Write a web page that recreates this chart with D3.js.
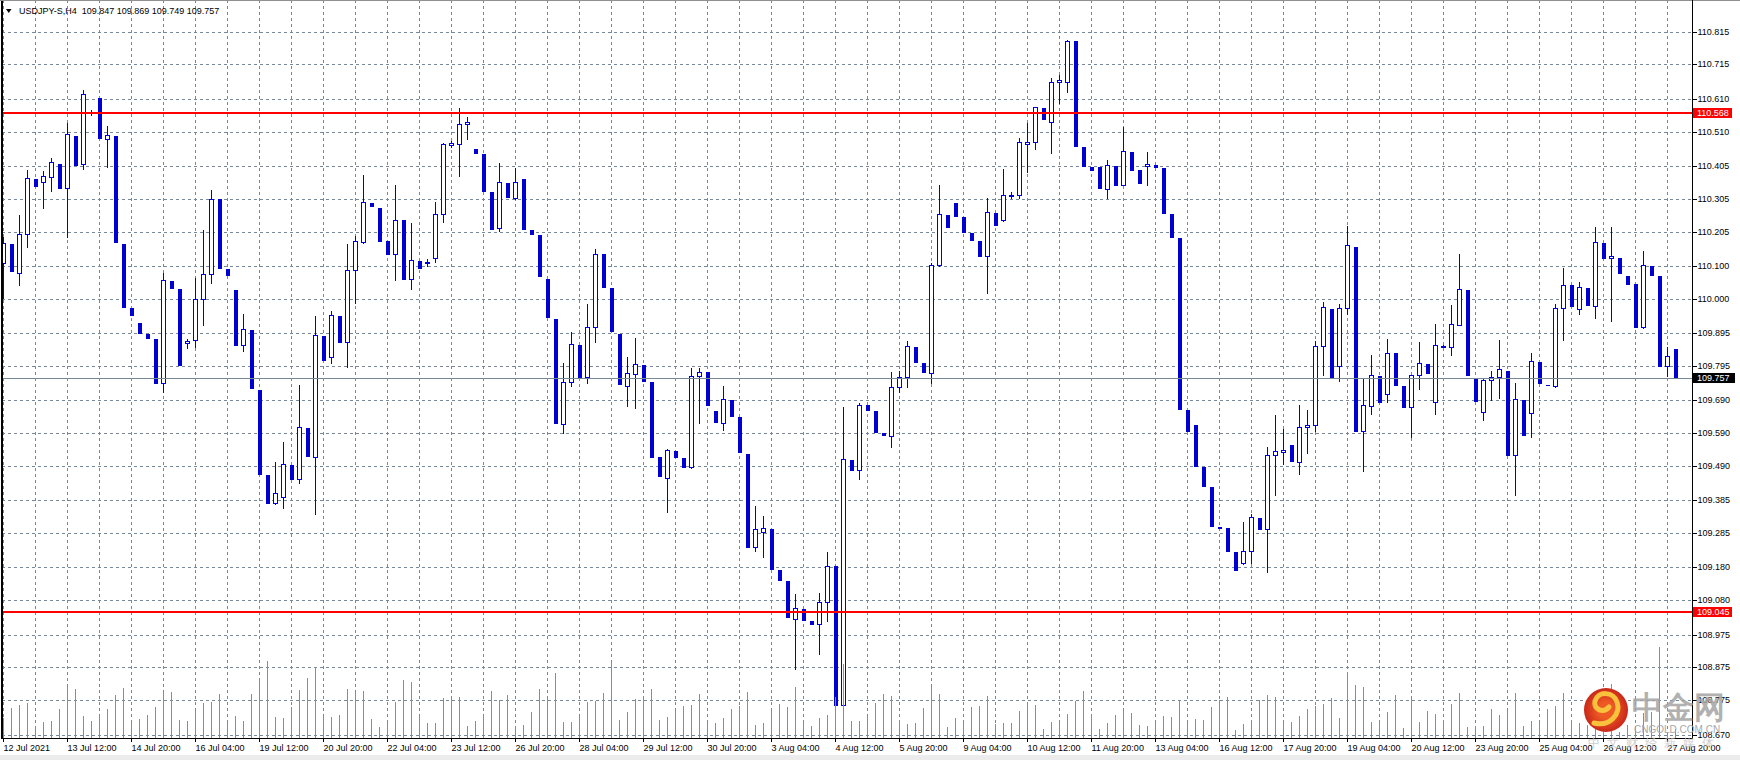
<!DOCTYPE html>
<html>
<head>
<meta charset="utf-8">
<script src="https://cdn.jsdelivr.net/npm/d3@7"></script>
<style>
  html, body { margin: 0; padding: 0; background: #fff; }
  svg { display: block; }
  text { font-family: "Liberation Sans", Arial, sans-serif; }
</style>
</head>
<body>
<div id="chart"></div>
<script>
// USDJPY-S H4, one bar every 4 hours from 12 Jul 2021
const symbol = "USDJPY-S,H4";

const opens = [
  110.110,110.167,110.080,110.197,110.366,110.356,110.373,110.412,110.337,110.497,
  110.411,110.566,110.613,110.489,110.497,110.167,109.972,109.926,109.893,109.877,
  109.742,110.054,110.029,109.866,109.874,109.999,110.075,110.305,110.091,110.027,
  109.858,109.905,109.722,109.462,109.376,109.396,109.493,109.449,109.605,109.518,
  109.887,109.822,109.948,109.869,110.089,110.174,110.293,110.277,110.177,110.136,
  110.241,110.060,110.116,110.108,110.124,110.258,110.470,110.472,110.533,110.457,
  110.442,110.326,110.215,110.354,110.309,110.366,110.209,110.195,110.060,109.939,
  109.617,109.747,109.859,109.761,109.913,110.137,110.033,109.893,109.735,109.771,
  109.798,109.745,109.517,109.452,109.536,109.513,109.486,109.764,109.777,109.656,
  109.620,109.691,109.639,109.527,109.242,109.289,109.298,109.173,109.139,109.022,
  109.053,109.018,109.009,109.074,109.183,108.761,109.508,109.476,109.676,109.658,
  109.589,109.582,109.730,109.761,109.853,109.805,109.773,110.104,110.256,110.293,
  110.249,110.201,110.177,110.132,110.262,110.239,110.316,110.316,110.473,110.478,
  110.582,110.539,110.661,110.663,110.786,110.463,110.402,110.402,110.334,110.405,
  110.347,110.447,110.393,110.405,110.408,110.399,110.259,110.186,109.661,109.615,
  109.487,109.425,109.305,109.300,109.227,109.193,109.230,109.332,109.296,109.522,
  109.533,109.555,109.503,109.608,109.614,109.855,109.968,109.794,109.971,110.158,
  109.596,109.673,109.764,109.710,109.835,109.734,109.669,109.767,109.800,109.684,
  109.855,109.852,109.921,110.026,109.757,109.655,109.751,109.761,109.781,109.522,
  109.691,109.650,109.808,109.738,109.734,109.973,110.042,109.968,110.033,109.979,
  110.170,110.124,110.125,110.070,110.045,109.915,110.099,110.069,109.794,109.847
];

const highs = [
  110.190,110.167,110.256,110.393,110.366,110.390,110.429,110.412,110.536,110.497,
  110.637,110.575,110.613,110.528,110.497,110.167,109.972,109.926,109.893,109.877,
  110.078,110.054,110.029,109.878,110.063,110.210,110.332,110.305,110.091,110.027,
  109.954,109.905,109.722,109.462,109.503,109.564,109.493,109.737,109.605,109.948,
  109.887,109.963,109.948,110.167,110.192,110.378,110.293,110.277,110.177,110.347,
  110.241,110.231,110.116,110.120,110.296,110.475,110.480,110.582,110.555,110.457,
  110.442,110.326,110.415,110.354,110.400,110.366,110.209,110.195,110.060,109.939,
  109.804,109.898,109.859,109.984,110.152,110.137,110.033,109.893,109.823,109.881,
  109.798,109.745,109.517,109.542,109.536,109.513,109.789,109.789,109.777,109.656,
  109.734,109.691,109.639,109.527,109.368,109.337,109.298,109.173,109.139,109.099,
  109.053,109.018,109.103,109.228,109.183,109.669,109.508,109.683,109.676,109.658,
  109.589,109.775,109.781,109.871,109.853,109.805,110.110,110.347,110.256,110.293,
  110.249,110.201,110.177,110.307,110.262,110.396,110.326,110.490,110.536,110.586,
  110.582,110.673,110.683,110.790,110.786,110.463,110.402,110.402,110.424,110.405,
  110.524,110.447,110.393,110.447,110.408,110.399,110.259,110.186,109.661,109.615,
  109.487,109.425,109.305,109.300,109.227,109.319,109.343,109.332,109.549,109.646,
  109.603,109.555,109.676,109.661,109.871,109.991,109.968,109.984,110.221,110.158,
  109.757,109.829,109.764,109.877,109.835,109.734,109.767,109.869,109.800,109.923,
  109.858,109.981,110.137,110.026,109.757,109.757,109.780,109.874,109.781,109.743,
  109.691,109.834,109.808,109.738,109.984,110.095,110.042,110.051,110.033,110.218,
  110.170,110.220,110.125,110.070,110.045,110.146,110.099,110.069,109.853,109.869
];

const lows = [
  110.002,110.086,110.042,110.159,110.344,110.276,110.330,110.339,110.187,110.408,
  110.397,110.562,110.492,110.403,110.174,109.976,109.951,109.897,109.881,109.742,
  109.717,110.034,109.798,109.850,109.854,109.920,110.049,110.095,110.073,109.859,
  109.842,109.727,109.466,109.378,109.374,109.363,109.450,109.439,109.520,109.343,
  109.813,109.805,109.869,109.791,109.988,110.171,110.284,110.177,110.138,110.058,
  110.061,110.031,110.095,110.100,110.113,110.235,110.462,110.376,110.488,110.446,
  110.330,110.214,110.208,110.312,110.305,110.214,110.199,110.068,109.943,109.620,
  109.589,109.735,109.762,109.744,109.869,110.037,109.903,109.740,109.674,109.668,
  109.750,109.518,109.460,109.350,109.518,109.488,109.484,109.622,109.677,109.625,
  109.600,109.643,109.531,109.244,109.231,109.213,109.175,109.142,109.030,108.870,
  109.020,109.009,108.916,109.018,108.761,108.758,109.476,109.450,109.661,109.592,
  109.585,109.549,109.714,109.732,109.808,109.775,109.742,110.100,110.220,110.254,
  110.205,110.180,110.131,110.017,110.226,110.238,110.308,110.307,110.386,110.456,
  110.548,110.446,110.597,110.632,110.467,110.406,110.392,110.339,110.306,110.348,
  110.346,110.394,110.354,110.347,110.403,110.263,110.187,109.664,109.595,109.491,
  109.430,109.308,109.296,109.231,109.173,109.191,109.193,109.296,109.165,109.400,
  109.496,109.506,109.466,109.530,109.595,109.766,109.762,109.748,109.952,109.598,
  109.473,109.648,109.685,109.684,109.738,109.671,109.577,109.724,109.772,109.648,
  109.854,109.827,109.920,109.766,109.689,109.631,109.692,109.697,109.524,109.401,
  109.585,109.577,109.742,109.730,109.731,109.874,109.978,109.952,109.981,109.941,
  110.125,109.931,110.079,110.045,109.915,109.911,110.074,109.796,109.764,109.749
];

const closes = [
  110.170,110.086,110.197,110.368,110.344,110.374,110.417,110.339,110.502,110.408,
  110.624,110.570,110.492,110.499,110.174,109.976,109.951,109.897,109.881,109.742,
  110.057,110.034,109.798,109.870,109.999,110.075,110.305,110.095,110.073,109.859,
  109.907,109.727,109.466,109.378,109.407,109.495,109.450,109.608,109.520,109.889,
  109.813,109.950,109.869,110.087,110.176,110.295,110.284,110.177,110.138,110.240,
  110.061,110.118,110.095,110.112,110.258,110.472,110.474,110.533,110.539,110.446,
  110.330,110.214,110.356,110.312,110.356,110.214,110.199,110.068,109.943,109.620,
  109.745,109.861,109.762,109.913,110.137,110.037,109.903,109.740,109.773,109.800,
  109.750,109.518,109.460,109.538,109.518,109.488,109.764,109.776,109.677,109.625,
  109.694,109.643,109.531,109.244,109.297,109.300,109.175,109.142,109.030,109.056,
  109.020,109.009,109.074,109.185,108.761,109.510,109.476,109.676,109.661,109.592,
  109.585,109.730,109.761,109.856,109.808,109.775,110.102,110.259,110.220,110.254,
  110.205,110.180,110.131,110.264,110.226,110.316,110.318,110.478,110.478,110.585,
  110.548,110.661,110.667,110.786,110.467,110.406,110.392,110.339,110.408,110.348,
  110.450,110.394,110.354,110.411,110.403,110.263,110.187,109.664,109.595,109.491,
  109.430,109.308,109.301,109.231,109.173,109.230,109.335,109.296,109.524,109.535,
  109.538,109.506,109.608,109.614,109.855,109.974,109.762,109.971,110.163,109.598,
  109.675,109.767,109.685,109.834,109.738,109.671,109.767,109.804,109.772,109.858,
  109.857,109.922,110.029,109.766,109.689,109.753,109.761,109.785,109.524,109.695,
  109.585,109.810,109.742,109.736,109.971,110.041,109.978,110.035,109.981,110.172,
  110.125,110.129,110.079,110.045,109.915,110.102,110.074,109.796,109.825,109.757
];

// tick volume per bar
const volumes = [
  1930,2900,3230,3430,1030,1530,1630,2800,4970,4800,
  2130,1630,2130,2800,4200,4900,1530,1800,2200,3030,
  4430,4530,1700,1630,2630,3430,3530,4300,1370,2130,
  1630,4300,5600,7630,2030,1930,3030,4700,5930,7030,
  1970,2030,2200,4800,4430,4630,1800,1030,1400,3530,
  5700,5530,1970,1430,1430,3870,3870,4030,1130,1630,
  2130,4630,3700,4200,1030,1200,2530,4800,3870,6370,
  1530,1530,2030,3530,3630,4370,7470,1700,2530,3800,
  3800,4800,1700,2030,2630,3130,3200,4300,1430,1430,
  1930,2800,3130,4530,1200,1430,2630,3300,3030,5030,
  1370,1100,1930,2200,4030,7300,1600,1600,1970,3430,
  4300,4100,1600,1300,1430,2930,4970,4300,1030,1930,
  1370,3030,3100,4100,1300,1430,1430,2630,3200,3200,
   800,1530,1370,2300,3600,4600,2200, 800,1430,2200,
  2600,2370,1200,1100,1370,2100,2030,3600,1370,1800,
  1700,3030,3700,4030, 700,1290,1600,3670,4180,4010,
  1360,1530,2100,2800,3150,3320,3910,1940,6420,5210,
  5040,1530,1360,2460,4220, 950,3940,1500,2560,2290,
  1700,3320,4390,1010,1120,1120,2800,2220,2740,4390,
  1120,1630,1360,2840,3150,4390,1630,1360,1190,1360,
  1120,5320, 500,1250,1080,2390,2460,9000, 500, 800
];

// time axis labels, one every 8 bars
const timeLabels = [
  "12 Jul 2021","13 Jul 12:00","14 Jul 20:00","16 Jul 04:00","19 Jul 12:00",
  "20 Jul 20:00","22 Jul 04:00","23 Jul 12:00","26 Jul 20:00","28 Jul 04:00",
  "29 Jul 12:00","30 Jul 20:00","3 Aug 04:00","4 Aug 12:00","5 Aug 20:00",
  "9 Aug 04:00","10 Aug 12:00","11 Aug 20:00","13 Aug 04:00","16 Aug 12:00",
  "17 Aug 20:00","19 Aug 04:00","20 Aug 12:00","23 Aug 20:00","25 Aug 04:00",
  "26 Aug 12:00","27 Aug 20:00"
];
const labelEvery = 8;

const priceTicks = [
  110.815,110.715,110.610,110.510,110.405,110.305,110.205,110.100,110.000,109.895,
  109.795,109.690,109.590,109.490,109.385,109.285,109.180,109.080,108.975,108.875,
  108.775,108.670
];

// horizontal lines drawn on the chart
const levels = [110.568, 109.045];

(function chart(){
let width = 1740,
    height = 760,
    plot = ({left: 2, right: 1692.5, top: 0, bottom: 738});

const blue = "#0000d2",
      grid = "#778899",
      volColor = "#32cd32";

const n = closes.length;

const svg = d3.select("#chart")
    .append("svg")
    .attr("width", width)
    .attr("height", height)
    .attr("viewBox", [0, 0, width, height])
    .attr("shape-rendering", "crispEdges");

svg.append("rect")
    .attr("width", width)
    .attr("height", height)
    .attr("fill", "#fff");

let x = d3.scaleLinear()
    .domain([0, n - 1])
    .range([3.5, 1675.5]);

let y = d3.scaleLinear()
    .domain([108.670, 110.815])
    .range([734.6, 31.7]);

// rounded copy for the axis so that the 1px ticks stay sharp
let yAxisScale = y.copy().interpolate(d3.interpolateRound);

let yVol = d3.scaleLinear()
    .domain([0, 10000])
    .range([737, 637]);

const py = v => Math.round(y(v));

// grid
svg.append("g")
    .selectAll("line")
    .data(d3.range(0, n, 4))
    .join("line")
    .attr("x1", d => x(d)).attr("x2", d => x(d))
    .attr("y1", plot.top).attr("y2", plot.bottom)
    .attr("stroke", grid)
    .attr("stroke-dasharray", "3,3");

svg.append("g")
    .selectAll("line")
    .data(priceTicks)
    .join("line")
    .attr("x1", plot.left).attr("x2", plot.right)
    .attr("y1", d => yAxisScale(d) + 0.5).attr("y2", d => yAxisScale(d) + 0.5)
    .attr("stroke", grid)
    .attr("stroke-dasharray", "3,3");

// candles
let bars = d3.range(n).map(i => ({
    i: i, o: opens[i], h: highs[i], l: lows[i], c: closes[i]
}));

let up = bars.filter(d => d.c >= d.o),
    down = bars.filter(d => d.c < d.o);

const candles = svg.append("g");

candles.selectAll(".wick")
    .data(up)
    .join("line")
    .attr("class", "wick")
    .attr("x1", d => x(d.i)).attr("x2", d => x(d.i))
    .attr("y1", d => py(d.h)).attr("y2", d => py(d.l) + 1)
    .attr("stroke", blue);

candles.selectAll(".up")
    .data(up)
    .join("rect")
    .attr("class", "up")
    .attr("x", d => x(d.i) - 2)
    .attr("y", d => py(d.c) + 0.5)
    .attr("width", 4)
    .attr("height", d => Math.max(1, py(d.o) - py(d.c)))
    .attr("fill", "#fff")
    .attr("stroke", blue);

candles.selectAll(".down")
    .data(down)
    .join("rect")
    .attr("class", "down")
    .attr("x", d => x(d.i) - 2)
    .attr("y", d => py(d.o))
    .attr("width", 4)
    .attr("height", d => Math.max(1, py(d.c) - py(d.o) + 1))
    .attr("fill", blue);

// volumes
svg.append("g")
    .selectAll("line")
    .data(volumes)
    .join("line")
    .attr("x1", (d, i) => x(i)).attr("x2", (d, i) => x(i))
    .attr("y1", plot.bottom)
    .attr("y2", d => yVol(d))
    .attr("stroke", volColor);

// last price line
const last = closes[n - 1];
svg.append("line")
    .attr("x1", plot.left).attr("x2", plot.right)
    .attr("y1", yAxisScale(last) + 0.5).attr("y2", yAxisScale(last) + 0.5)
    .attr("stroke", grid);

// red levels
svg.append("g")
    .selectAll("line")
    .data(levels)
    .join("line")
    .attr("x1", plot.left).attr("x2", plot.right)
    .attr("y1", d => yAxisScale(d)).attr("y2", d => yAxisScale(d))
    .attr("stroke", "#ff0000")
    .attr("stroke-width", 2);

// frame
svg.append("line")
    .attr("x1", 0).attr("x2", width)
    .attr("y1", 0.5).attr("y2", 0.5)
    .attr("stroke", "#909090");
svg.append("rect")
    .attr("x", 1).attr("y", 1)
    .attr("width", 2).attr("height", plot.bottom - 1)
    .attr("fill", "#000");

// price axis
const yAxis = g => g
    .attr("transform", `translate(${plot.right},0)`)
    .call(d3.axisRight(yAxisScale)
        .tickValues(priceTicks)
        .tickFormat(d3.format(".3f"))
        .tickSize(4)
        .tickPadding(1))
    .call(g => g.select(".domain").remove())
    .call(g => g.selectAll("text")
        .attr("font-size", 9)
        .attr("font-family", "Liberation Sans, Arial, sans-serif")
        .attr("fill", "#000"));

svg.append("g").call(yAxis);

// time axis
const xAxis = g => g
    .attr("transform", `translate(0,${plot.bottom})`)
    .call(d3.axisBottom(x)
        .offset(0)
        .tickValues(d3.range(0, n, labelEvery))
        .tickFormat((d, i) => timeLabels[i])
        .tickSize(4)
        .tickPadding(3))
    .call(g => g.select(".domain").remove())
    .call(g => g.selectAll("text")
        .attr("text-anchor", "start")
        .attr("x", 0)
        .attr("font-size", 9)
        .attr("font-family", "Liberation Sans, Arial, sans-serif")
        .attr("fill", "#000"));

svg.append("g").call(xAxis);

svg.append("line")
    .attr("x1", plot.right).attr("x2", plot.right)
    .attr("y1", 0).attr("y2", plot.bottom)
    .attr("stroke", "#000");
svg.append("line")
    .attr("x1", 1).attr("x2", plot.right)
    .attr("y1", plot.bottom + 0.5).attr("y2", plot.bottom + 0.5)
    .attr("stroke", "#000");

svg.append("rect")
    .attr("x", 0).attr("y", 755)
    .attr("width", width).attr("height", 5)
    .attr("fill", "#ececec");

// price tags on the axis
const tag = (v, bg, w) => {
    let yc = yAxisScale(v);
    svg.append("rect")
        .attr("x", plot.right + 0.5).attr("y", yc - 5)
        .attr("width", w).attr("height", 10)
        .attr("fill", bg);
    svg.append("text")
        .attr("x", plot.right + 4.5).attr("y", yc)
        .attr("dy", "0.34em")
        .attr("font-size", 9)
        .attr("fill", "#fff")
        .text(d3.format(".3f")(v));
};
levels.forEach(v => tag(v, "#ff0000", 39));
tag(last, "#000", 42);

// header
svg.append("path")
    .attr("d", "M6,9 L11.5,9 L8.75,13 Z")
    .attr("fill", "#000")
    .attr("shape-rendering", "auto");
svg.append("text")
    .attr("x", 19).attr("y", 11)
    .attr("dy", "0.34em")
    .attr("font-size", 9)
    .attr("fill", "#000")
    .style("white-space", "pre")
    .text(`${symbol}  ${d3.format(".3f")(opens[n-1])} ${d3.format(".3f")(highs[n-1])} ${d3.format(".3f")(lows[n-1])} ${d3.format(".3f")(closes[n-1])}`);

// watermark
const wm = svg.append("g").attr("shape-rendering", "auto");
const grad = svg.append("defs").append("radialGradient")
    .attr("id", "wmGrad");
grad.append("stop").attr("offset", "35%").attr("stop-color", "#ee5a24");
grad.append("stop").attr("offset", "100%").attr("stop-color", "#c9281a");
wm.append("circle")
    .attr("cx", 1606).attr("cy", 710).attr("r", 22)
    .attr("fill", "url(#wmGrad)");
wm.append("path")
    .attr("d", "M1594,723 C1610,727 1621,714 1617,702 C1613,691 1598,691 1595,701 C1593,709 1603,714 1609,707")
    .attr("fill", "none")
    .attr("stroke", "#f8c23c")
    .attr("stroke-width", 5)
    .attr("stroke-linecap", "round");
wm.append("text")
    .attr("x", 1632).attr("y", 718)
    .attr("font-family", "Noto Sans CJK SC")
    .attr("font-weight", "bold")
    .attr("font-size", 31)
    .attr("fill", "#a4a4a4")
    .attr("opacity", 0.85)
    .text("中金网");
wm.append("text")
    .attr("x", 1634).attr("y", 733)
    .attr("font-size", 10)
    .attr("fill", "#a8a8a8")
    .text("CNGOLD.COM.CN");
wm.append("text")
    .attr("x", 1588).attr("y", 747)
    .attr("font-family", "Noto Sans CJK SC")
    .attr("font-size", 12)
    .attr("letter-spacing", 7)
    .attr("fill", "#c4c4c4")
    .attr("opacity", 0.8)
    .text("中文财经新媒体");
})();
</script>
</body>
</html>
